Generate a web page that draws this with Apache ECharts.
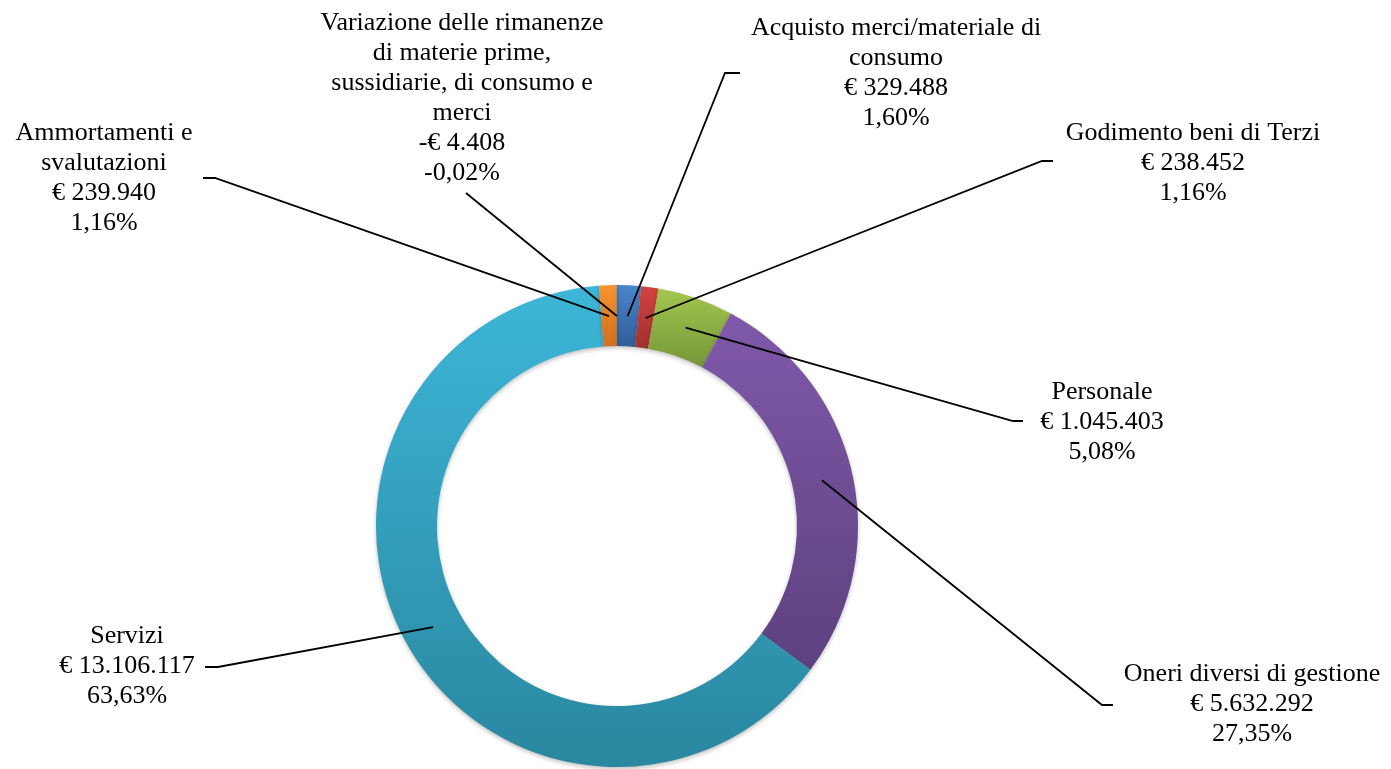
<!DOCTYPE html>
<html>
<head>
<meta charset="utf-8">
<title>Costi della produzione</title>
<script src="https://cdn.jsdelivr.net/npm/echarts@6/dist/echarts.min.js"></script>
<style>
  html, body { margin: 0; padding: 0; background: #ffffff; }
  #chart { width: 1391px; height: 769px; }
</style>
</head>
<body>
<div id="chart"></div>
<script>
  // voci di costo, in senso orario a partire dalle ore 12
  var categories = [
    'Acquisto merci/materiale di\nconsumo',
    'Godimento beni di Terzi',
    'Personale',
    'Oneri diversi di gestione',
    'Servizi',
    'Ammortamenti e\nsvalutazioni',
    'Variazione delle rimanenze\ndi materie prime,\nsussidiarie, di consumo e\nmerci'
  ]
  var values = [329488, 238452, 1045403, 5632292, 13106117, 239940, -4408]

  // colori (alto -> basso del gradiente)
  var sliceColors = [
    ['#4A86CC', '#2F5E97'],
    ['#D2423F', '#A2302E'],
    ['#A2C64E', '#77963A'],
    ['#8059AA', '#5D417F'],
    ['#3DB6D8', '#2A879F'],
    ['#F9922F', '#D0701E'],
    ['#3A6CA8', '#284D7A']
  ]

  // centro del testo di ogni etichetta e tratto finale della linea guida
  var labelSpots = [
    { x: 896, y: 73, elbow: [725, 73], end: [740, 73] },
    { x: 1193, y: 163, elbow: [1042, 161], end: [1053, 161] },
    { x: 1102, y: 422, elbow: [1013, 421], end: [1023, 421] },
    { x: 1252, y: 704, elbow: [1102, 705], end: [1113, 705] },
    { x: 127, y: 666, elbow: [218, 667], end: [205, 667] },
    { x: 104, y: 178, elbow: [215, 178], end: [203, 178] },
    { x: 462, y: 98, elbow: null, end: [466, 193] }
  ]

  var absTotal = values.reduce(function (s, v) { return s + Math.abs(v) }, 0)

  function euro(v) {
    var s = Math.abs(v).toString().replace(/\B(?=(\d{3})+(?!\d))/g, '.')
    return (v < 0 ? '-€ ' : '€ ') + s
  }

  function percent(v) {
    return (v / absTotal * 100).toFixed(2).replace('.', ',') + '%'
  }

  var ringData = categories.map(function (name, i) {
    return {
      name: name,
      value: Math.abs(values[i]),
      itemStyle: {
        color: new echarts.graphic.LinearGradient(0, 0, 0, 1, [
          { offset: 0, color: sliceColors[i][0] },
          { offset: 1, color: sliceColors[i][1] }
        ])
      }
    }
  })

  var guideData = categories.map(function (name, i) {
    return { name: name, value: Math.abs(values[i]) }
  })

  var myChart = echarts.init(document.getElementById('chart'))

  var option = {
    animation: false,
    backgroundColor: '#ffffff',
    series: [{
      type: 'pie',
      z: 1,
      center: [617, 526],
      radius: [180, 241],
      startAngle: 90,
      clockwise: true,
      silent: true,
      label: { show: false },
      labelLine: { show: false },
      emphasis: { disabled: true },
      itemStyle: {
        borderWidth: 0,
        shadowBlur: 4,
        shadowOffsetY: 2,
        shadowColor: 'rgba(0, 0, 0, 0.25)'
      },
      data: ringData
    }, {
      // serie trasparente: serve solo per far partire le linee guida a metà anello
      type: 'pie',
      z: 5,
      center: [617, 526],
      radius: [0, 210],
      startAngle: 90,
      clockwise: true,
      silent: true,
      avoidLabelOverlap: false,
      emphasis: { disabled: true },
      itemStyle: { color: 'rgba(0,0,0,0)', borderWidth: 0 },
      label: {
        show: true,
        position: 'outside',
        color: '#000000',
        fontFamily: '"Liberation Serif", "Times New Roman", serif',
        fontSize: 26,
        lineHeight: 30,
        align: 'center',
        formatter: function (p) {
          var v = values[p.dataIndex]
          return categories[p.dataIndex] + '\n' + euro(v) + '\n' + percent(v)
        }
      },
      labelLine: {
        show: true,
        showAbove: true,
        length: 10,
        length2: 10,
        lineStyle: { color: '#000000', width: 1.8 }
      },
      labelLayout: function (p) {
        var s = labelSpots[p.dataIndex]
        var pts = p.labelLinePoints
        var line = [pts ? pts[0] : s.end]
        if (s.elbow) line.push(s.elbow)
        line.push(s.end)
        return {
          x: s.x,
          y: s.y,
          align: 'center',
          verticalAlign: 'middle',
          labelLinePoints: line
        }
      },
      data: guideData
    }]
  }

  myChart.setOption(option)
</script>
</body>
</html>
